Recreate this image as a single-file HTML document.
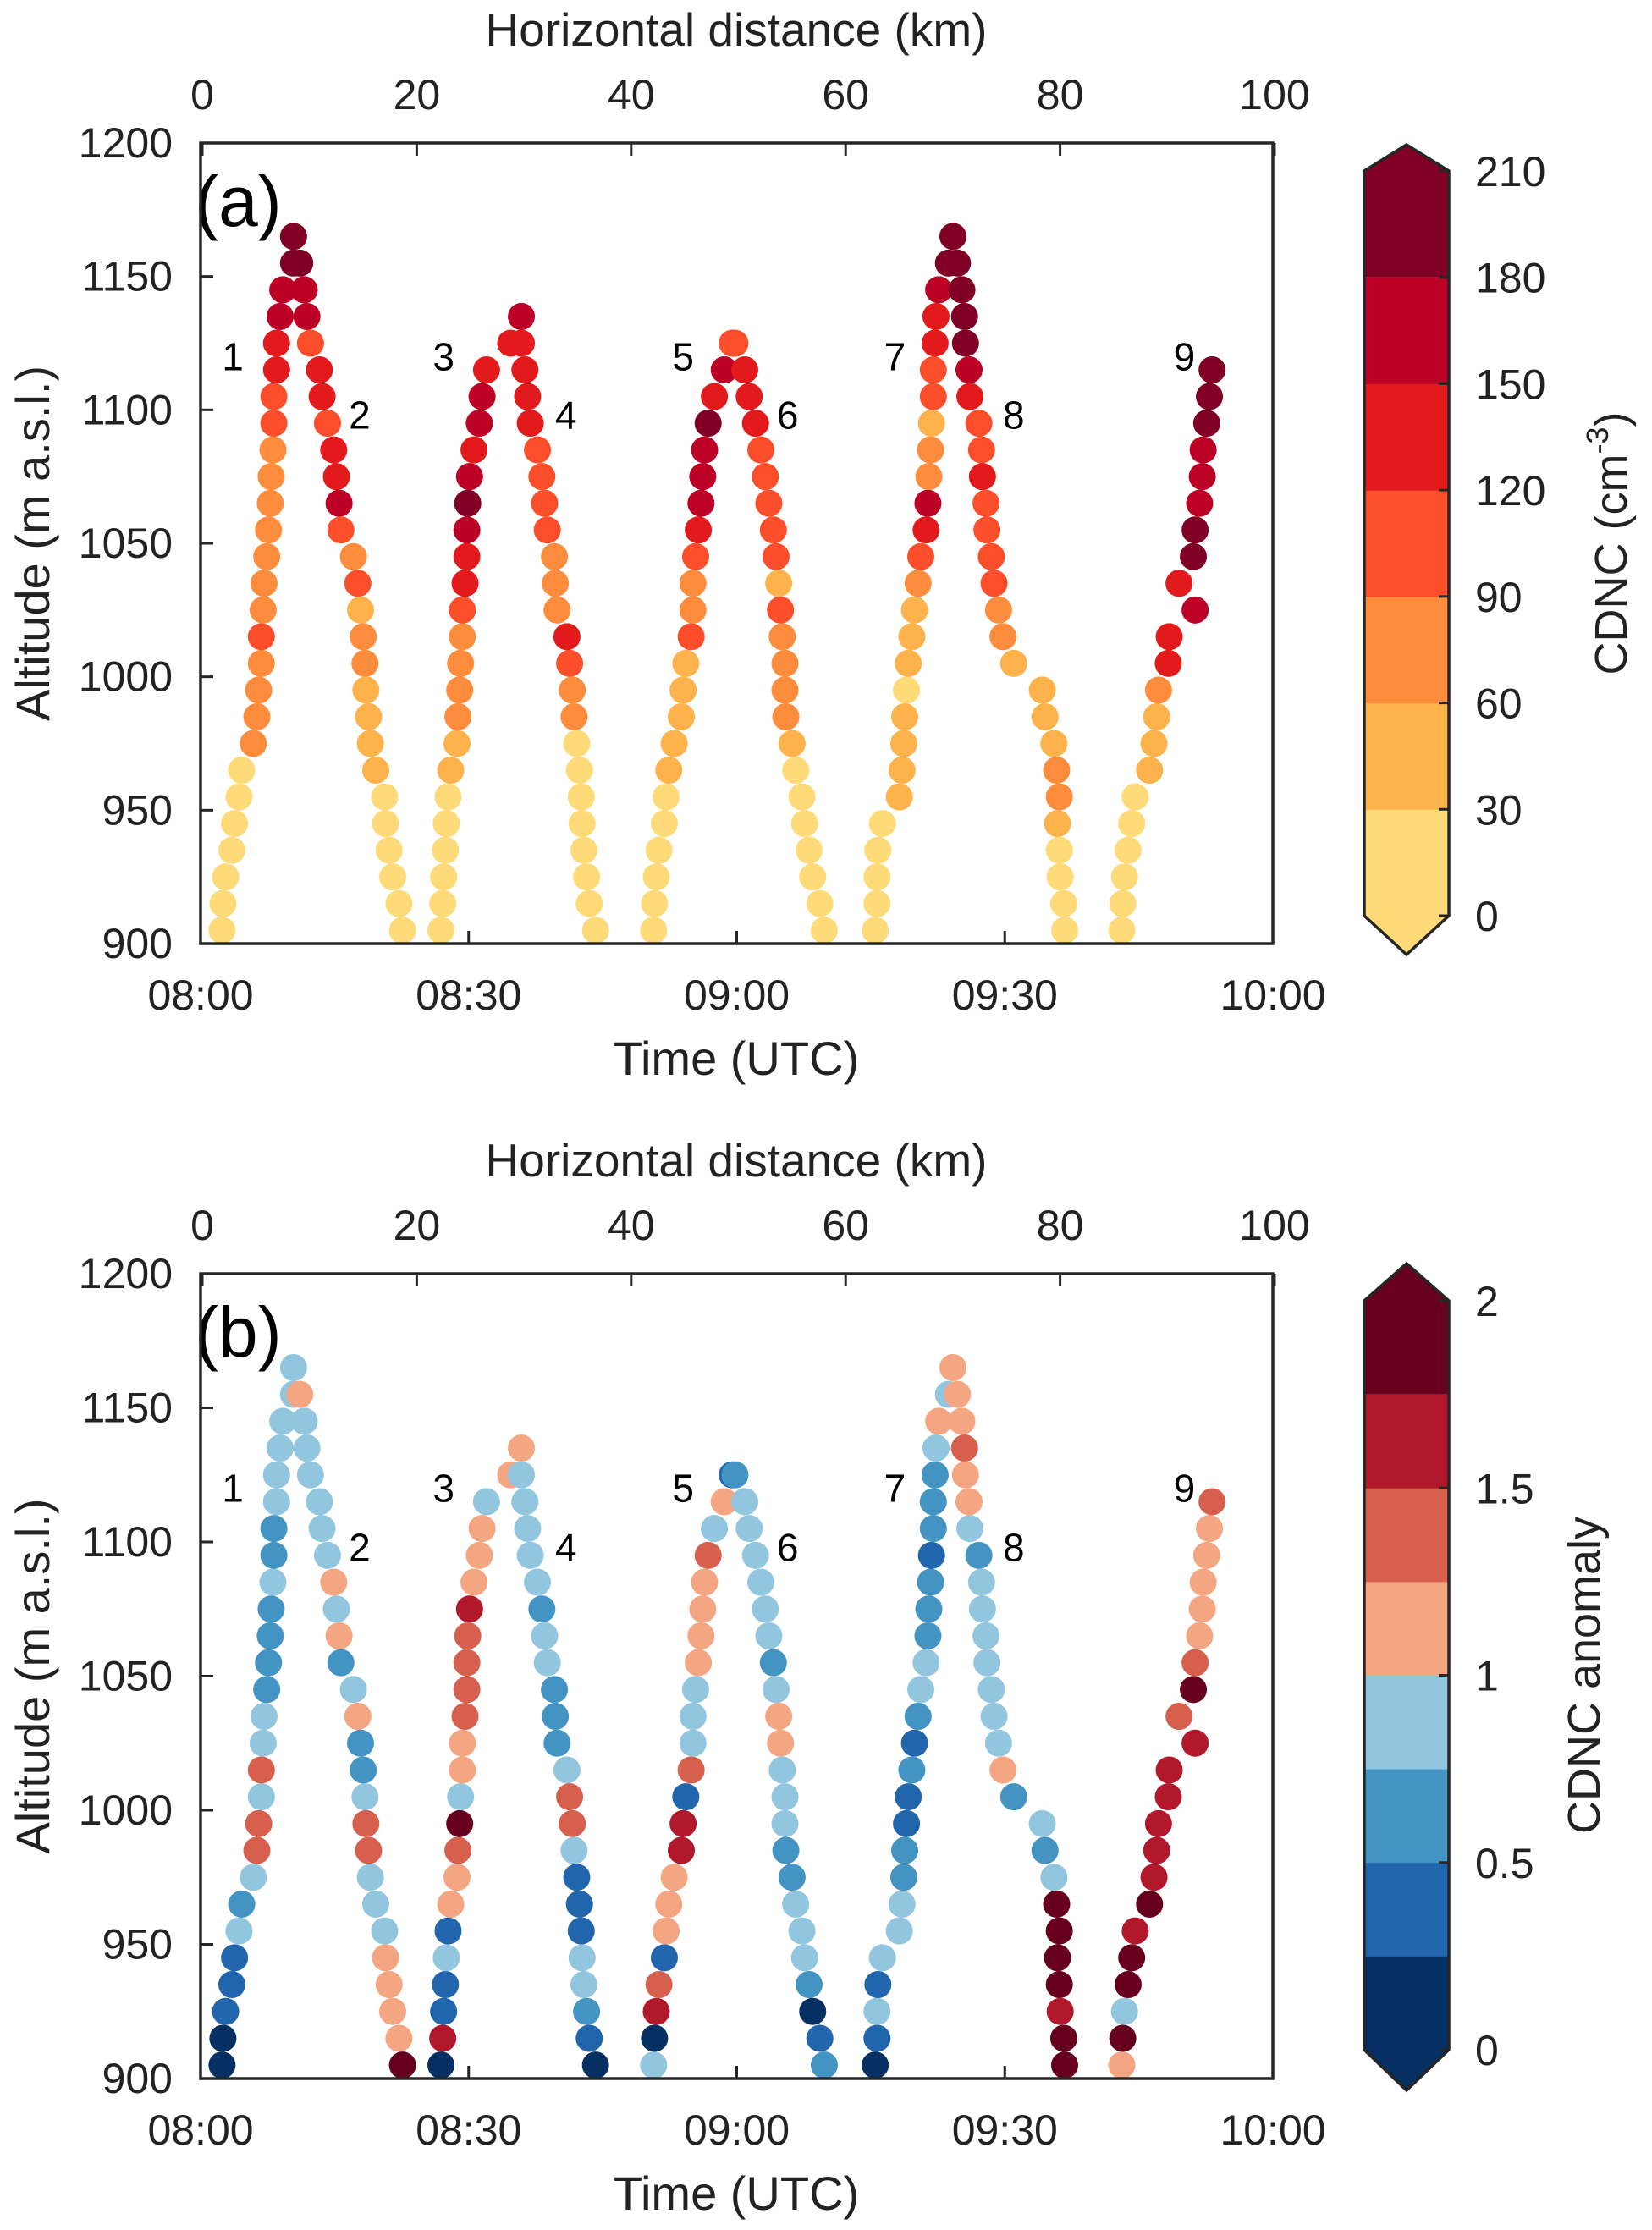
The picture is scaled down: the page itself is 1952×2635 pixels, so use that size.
<!DOCTYPE html>
<html><head><meta charset="utf-8"><style>
html,body{margin:0;padding:0;background:#fff}
svg{display:block;font-family:"Liberation Sans",Arial,sans-serif}
</style></head><body>
<svg id="fig" width="1952" height="2635" viewBox="0 0 1952 2635" xmlns="http://www.w3.org/2000/svg"></svg>
<script>
// ---- data: altitudes (m), times (minutes after 08:00), colour class for panel a and b
const alt_asc1=[905,915,925,935,945,955,965,975,985,995,1005,1015,1025,1035,1045,1055,1065,1075,1085,1095,1105,1115,1125,1135,1145,1155,1165];
const t_asc1=[2.4,2.5,2.8,3.5,3.8,4.3,4.6,5.9,6.3,6.5,6.8,6.8,7.0,7.1,7.4,7.6,7.8,7.9,8.1,8.2,8.2,8.5,8.5,8.9,9.2,10.4,10.4];
const a_asc1=[0,0,0,0,0,0,0,2,2,2,2,3,2,2,2,2,2,2,2,3,3,4,4,5,5,6,6];
const b_asc1=[0,0,1,1,1,3,2,3,5,5,3,5,3,3,2,2,2,2,3,2,2,3,3,3,3,3,3];
const alt_d2=[1155,1145,1135,1125,1115,1105,1095,1085,1075,1065,1055,1045,1035,1025,1015,1005,995,985,975,965,955,945,935,925,915,905];
const t_d2=[11.1,11.6,11.9,12.3,13.3,13.6,14.2,14.9,15.2,15.5,15.7,17.1,17.6,17.9,18.2,18.4,18.5,18.8,19.0,19.6,20.6,20.7,21.1,21.5,22.2,22.6];
const a_d2=[6,5,5,3,4,4,3,4,4,5,3,2,3,1,2,2,1,1,1,1,0,0,0,0,0,0];
const b_d2=[4,3,3,3,3,3,3,4,3,4,2,3,4,2,2,3,5,5,3,3,3,4,4,4,4,7];
const alt_a3=[905,915,925,935,945,955,965,975,985,995,1005,1015,1025,1035,1045,1055,1065,1075,1085,1095,1105,1115,1125,1135];
const t_a3=[26.9,27.1,27.2,27.4,27.5,27.7,28.0,28.7,28.8,29.0,29.1,29.3,29.3,29.6,29.8,29.8,29.9,30.1,30.6,31.2,31.5,32.0,34.7,35.9];
const a_a3=[0,0,0,0,0,0,1,1,2,2,2,2,3,4,4,5,6,5,4,5,5,4,4,5];
const b_a3=[0,6,1,1,3,1,4,4,5,7,3,4,4,5,5,5,5,6,4,4,4,3,4,4];
const alt_d4=[1125,1115,1105,1095,1085,1075,1065,1055,1045,1035,1025,1015,1005,995,985,975,965,955,945,935,925,915,905];
const t_d4=[35.9,36.3,36.6,36.9,37.7,38.2,38.5,38.8,39.6,39.7,39.9,41.0,41.3,41.6,41.8,42.1,42.4,42.6,42.7,42.9,43.2,43.5,44.2];
const a_d4=[4,4,4,4,3,3,3,3,2,2,2,4,3,2,2,0,0,0,0,0,0,0,0];
const b_d4=[3,3,3,3,3,2,3,3,2,2,2,3,5,5,3,1,1,1,3,3,2,1,0];
const alt_a5=[905,915,925,935,945,955,965,975,985,995,1005,1015,1025,1035,1045,1055,1065,1075,1085,1095,1105,1115,1125];
const t_a5=[50.7,50.8,51.0,51.3,51.9,52.1,52.4,53.0,53.8,54.0,54.3,54.9,55.1,55.1,55.4,55.7,56.0,56.2,56.4,56.8,57.5,58.6,59.5];
const a_a5=[0,0,0,0,0,0,1,1,1,1,1,3,2,2,3,4,5,5,5,6,4,5,3];
const b_a5=[3,0,6,5,1,4,4,4,6,6,1,5,3,3,3,4,4,4,4,5,3,4,1];
const alt_d6=[1125,1115,1105,1095,1085,1075,1065,1055,1045,1035,1025,1015,1005,995,985,975,965,955,945,935,925,915,905];
const t_d6=[59.8,60.9,61.4,62.1,62.7,63.2,63.6,64.1,64.4,64.7,64.9,65.1,65.4,65.4,65.5,66.2,66.6,67.3,67.6,68.1,68.5,69.3,69.8];
const a_d6=[3,4,4,4,3,3,3,3,3,1,3,2,2,2,2,1,0,0,0,0,0,0,0];
const b_d6=[2,3,3,3,3,3,3,2,3,4,4,3,3,3,2,2,3,3,3,2,0,1,2];
const alt_a7=[905,915,925,935,945,955,965,975,985,995,1005,1015,1025,1035,1045,1055,1065,1075,1085,1095,1105,1115,1125,1135,1145,1155,1165];
const t_a7=[75.5,75.7,75.7,75.8,76.3,78.2,78.5,78.7,78.8,79.0,79.2,79.6,79.9,80.3,80.6,81.2,81.4,81.5,81.7,81.8,82.0,82.0,82.2,82.3,82.6,83.7,84.2];
const a_a7=[0,0,0,0,0,1,1,1,1,0,1,1,1,2,3,4,5,2,2,1,3,3,4,4,5,6,6];
const b_a7=[0,1,3,1,3,3,3,2,2,1,1,2,1,2,3,3,2,2,2,1,2,2,2,3,4,3,4];
const alt_d8=[1155,1145,1135,1125,1115,1105,1095,1085,1075,1065,1055,1045,1035,1025,1015,1005,995,985,975,965,955,945,935,925,915,905];
const t_d8=[84.7,85.2,85.5,85.6,86.0,86.1,87.1,87.4,87.5,87.9,88.0,88.5,88.8,89.3,89.8,91.0,94.2,94.5,95.5,95.8,96.1,95.9,96.1,96.2,96.6,96.7];
const a_d8=[6,6,6,6,5,4,3,3,4,3,3,3,3,2,2,1,1,1,1,2,2,1,0,0,0,0];
const b_d8=[4,4,5,4,4,3,2,3,3,3,3,3,3,3,4,2,3,2,3,7,7,7,7,6,7,7];
const alt_a9=[905,915,925,935,945,955,965,975,985,995,1005,1015,1025,1035,1045,1055,1065,1075,1085,1095,1105,1115];
const t_a9=[103.1,103.2,103.4,103.8,104.2,104.6,106.2,106.7,107.0,107.2,108.3,108.4,111.3,109.5,111.1,111.3,111.8,112.1,112.2,112.6,112.9,113.2];
const a_a9=[0,0,0,0,0,0,1,1,1,2,4,4,5,4,6,6,5,5,5,6,6,6];
const b_a9=[4,7,3,7,7,6,7,6,6,6,6,6,6,5,7,5,4,4,4,4,4,5];

const profileAlts=[alt_asc1,alt_d2,alt_a3,alt_d4,alt_a5,alt_d6,alt_a7,alt_d8,alt_a9];
const profileTimes=[t_asc1,t_d2,t_a3,t_d4,t_a5,t_d6,t_a7,t_d8,t_a9];
const profileA=[a_asc1,a_d2,a_a3,a_d4,a_a5,a_d6,a_a7,a_d8,a_a9];
const profileB=[b_asc1,b_d2,b_a3,b_d4,b_a5,b_d6,b_a7,b_d8,b_a9];

const yTicks=[900,950,1000,1050,1100,1150,1200];
const timeTicks=[0,30,60,90,120];
const timeLabels=["08:00","08:30","09:00","09:30","10:00"];
const kmTicks=[0,20,40,60,80,100];
const cbarATicks=["0","30","60","90","120","150","180","210"];
const cbarBTicks=["0","0.5","1","1.5","2"];
const profileLabels=["1","2","3","4","5","6","7","8","9"];
const labelTimes=[3.6,17.8,27.2,40.9,54,65.7,77.7,91,110.1];
const labelAlts=[1120,1098,1120,1098,1120,1098,1120,1098,1120];

const cmapA=["#fedb78","#feb24c","#fd8d3c","#fc4e2a","#e31a1c","#bd0026","#800026"];
const cmapB=["#053061","#2166ac","#4393c3","#92c5de","#f4a582","#d6604d","#b2182b","#67001f"];

const NS="http://www.w3.org/2000/svg";
const svg=document.getElementById('fig');
function el(tag,attrs,parent){const e=document.createElementNS(NS,tag);for(const k in attrs)e.setAttribute(k,attrs[k]);(parent||svg).appendChild(e);return e;}
function txt(s,attrs,parent){const e=el('text',attrs,parent);e.textContent=s;return e;}

const X0=237,X1=1504;
function xTime(m){return X0+(m/120)*(X1-X0);}
function xKm(k){return 239+(k/100)*(1506-239);}

function panel(top,bot,cols,cmap,letter,name){
  const g=el('g',{});
  
  
  const yA=a=>bot-(a-900)/300*(bot-top);
  const ht=txt('Horizontal distance (km)',{x:870,y:top-115,'font-size':55,'text-anchor':'middle',fill:'#222'},g);
  
  kmTicks.forEach(k=>{
    const t=txt(String(k),{x:xKm(k),y:top-40,'font-size':50,'text-anchor':'middle',fill:'#222'},g);
    
    el('line',{x1:xKm(k),x2:xKm(k),y1:top,y2:top+15,stroke:'#262626','stroke-width':3},g);
  });
  yTicks.forEach(v=>{
    const t=txt(String(v),{x:204,y:yA(v)+17,'font-size':50,'text-anchor':'end',fill:'#222'},g);
    
    el('line',{x1:X0,x2:X0+15,y1:yA(v),y2:yA(v),stroke:'#262626','stroke-width':3},g);
  });
  timeTicks.forEach((m,i)=>{
    const t=txt(timeLabels[i],{x:xTime(m),y:bot+78,'font-size':50,'text-anchor':'middle',fill:'#222'},g);
    
    el('line',{x1:xTime(m),x2:xTime(m),y1:bot,y2:bot-15,stroke:'#262626','stroke-width':3},g);
  });
  const xt=txt('Time (UTC)',{x:870,y:bot+155,'font-size':56,'text-anchor':'middle',fill:'#222'},g);
  
  const cy=(top+bot)/2;
  const yt=txt('Altitude (m a.s.l.)',{x:0,y:0,'font-size':56,'text-anchor':'middle',fill:'#222',transform:`translate(58,${cy}) rotate(-90)`},g);
  
  for(let p=0;p<profileAlts.length;p++){
    const pg=el('g',{},g);
    
    
    for(let i=0;i<profileAlts[p].length;i++){
      const c=el('circle',{cx:xTime(profileTimes[p][i]),cy:yA(profileAlts[p][i]),r:16,fill:cmap[cols[p][i]]},pg);
      
      
    }
  }
  profileLabels.forEach((s,i)=>{
    const t=txt(s,{x:xTime(labelTimes[i]),y:yA(labelAlts[i])+16,'font-size':46,'text-anchor':'middle',fill:'#000'},g);
    
  });
  const pl=txt(letter,{x:230,y:top+98,'font-size':84,fill:'#000'},g);
  
  const box=el('rect',{x:X0,y:top,width:X1-X0,height:bot-top,fill:'none',stroke:'#262626','stroke-width':3.5},g);
  
}

function cbar(rt,rb,tipT,tipB,cmap,ticks,title,name,titleX,sup){
  const g=el('g',{});
  
  
  const L=1612,R=1712,M=(L+R)/2,n=cmap.length,h=(rb-rt)/n;
  for(let i=0;i<n;i++){
    let y0=rb-(i+1)*h,y1=rb-i*h;
    if(i===n-1){el('polygon',{points:`${L},${y1} ${L},${rt} ${M},${tipT} ${R},${rt} ${R},${y1}`,fill:cmap[i]},g);}
    else if(i===0){el('polygon',{points:`${L},${y0} ${L},${rb} ${M},${tipB} ${R},${rb} ${R},${y0}`,fill:cmap[i]},g);}
    else el('rect',{x:L,y:y0,width:R-L,height:h+0.5,fill:cmap[i]},g);
  }
  el('polygon',{points:`${L},${rt} ${M},${tipT} ${R},${rt} ${R},${rb} ${M},${tipB} ${L},${rb}`,fill:'none',stroke:'#262626','stroke-width':3.5},g);
  ticks.forEach((s,i)=>{
    const y=rb-i*(rb-rt)/(ticks.length-1);
    el('line',{x1:R,x2:R-12,y1:y,y2:y,stroke:'#262626','stroke-width':3},g);
    const t=txt(s,{x:1743,y:y+18,'font-size':50,fill:'#222'},g);
    
  });
  const cy=(rt+rb)/2;
  const t=el('text',{x:0,y:0,'font-size':54,'text-anchor':'middle',fill:'#222',transform:`translate(${titleX},${cy}) rotate(-90)`},g);
  
  if(sup){
    t.appendChild(document.createTextNode('CDNC (cm'));
    const ts=document.createElementNS(NS,'tspan');ts.setAttribute('dy','-22');ts.setAttribute('font-size','36');ts.textContent='-3';t.appendChild(ts);
    const ts2=document.createElementNS(NS,'tspan');ts2.setAttribute('dy','22');ts2.textContent=')';t.appendChild(ts2);
  } else t.textContent=title;
}

panel(169,1115,profileA,cmapA,'(a)','panel-a');
panel(1505,2456,profileB,cmapB,'(b)','panel-b');
cbar(202,1082,171,1128,cmapA,cbarATicks,'CDNC (cm-3)','colorbar-a',1922,true);
cbar(1537,2422,1493,2470,cmapB,cbarBTicks,'CDNC anomaly','colorbar-b',1890,false);
</script>
</body></html>
